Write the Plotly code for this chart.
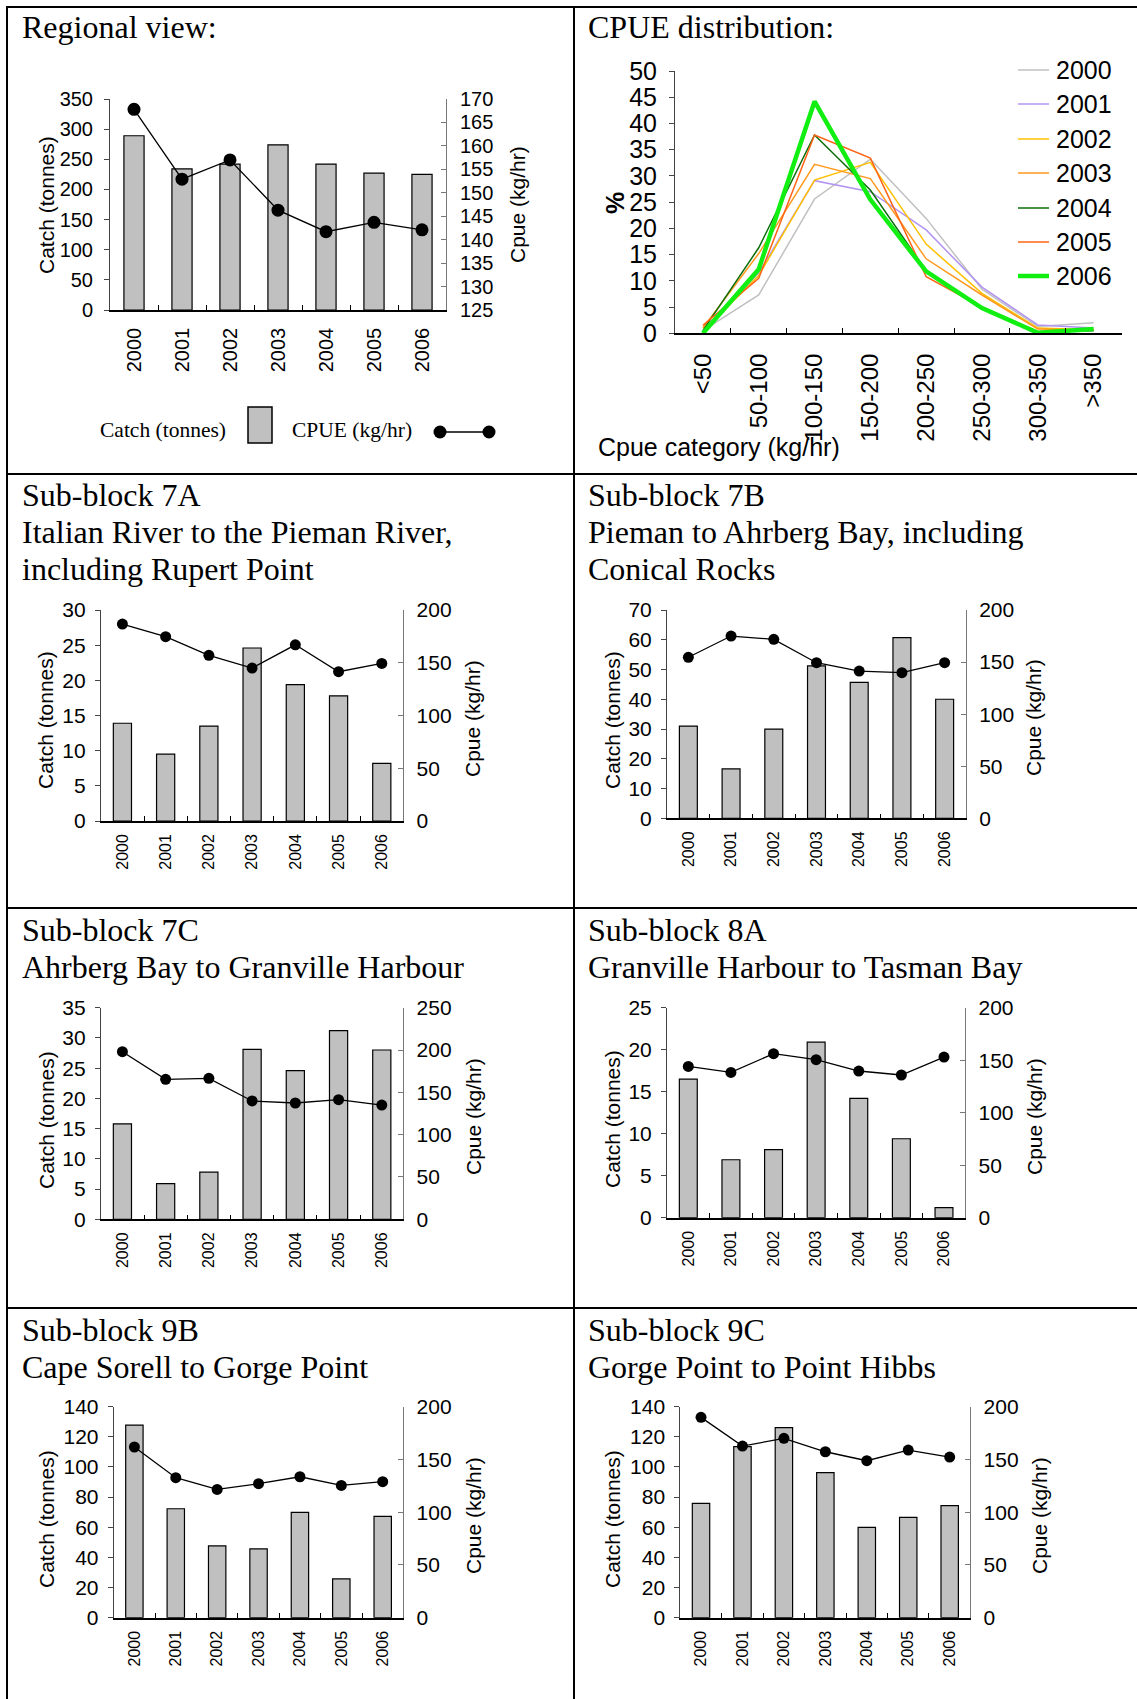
import plotly.graph_objects as go

W, H = 1137, 1699

# ---------------- data ----------------
years = ['2000', '2001', '2002', '2003', '2004', '2005', '2006']

regional_catch = [289, 234, 242, 274, 242, 227, 225]
regional_cpue = [167.8, 152.9, 157.0, 146.3, 141.7, 143.7, 142.1]

cpue_categories = ['<50', '50-100', '100-150', '150-200', '200-250', '250-300', '300-350', '>350']
dist_2000 = [0.5, 7.3, 25.6, 33.2, 21.9, 8.4, 1.3, 2.0]
dist_2001 = [0.5, 11.5, 29.1, 27.0, 19.7, 8.8, 1.6, 1.0]
dist_2002 = [0.3, 11.0, 29.2, 32.6, 17.0, 7.6, 1.0, 0.7]
dist_2003 = [1.0, 15.2, 32.2, 29.5, 14.2, 7.3, 0.8, 0.6]
dist_2004 = [0.5, 16.3, 37.8, 27.3, 11.9, 5.0, 0.3, 0.5]
dist_2005 = [1.5, 10.5, 37.8, 33.4, 10.8, 5.0, 0.3, 0.7]
dist_2006 = [0.0, 12.2, 44.2, 25.5, 11.8, 4.8, 0.1, 0.8]

catch_7a = [13.9, 9.5, 13.5, 24.6, 19.4, 17.8, 8.2]
cpue_7a = [186.7, 174.7, 157.0, 145.0, 167.0, 141.5, 149.4]
catch_7b = [31.0, 16.6, 30.0, 51.2, 45.7, 60.7, 40.0]
cpue_7b = [154.6, 175.0, 171.8, 149.4, 141.4, 139.8, 149.4]
catch_7c = [15.8, 5.9, 7.8, 28.1, 24.6, 31.2, 28.0]
cpue_7c = [198.0, 165.4, 166.5, 139.8, 137.4, 141.3, 135.0]
catch_8a = [16.5, 6.9, 8.1, 20.9, 14.2, 9.4, 1.2]
cpue_8a = [144.1, 138.4, 156.2, 150.5, 139.7, 135.9, 153.0]
catch_9b = [127.8, 72.3, 47.6, 45.6, 69.9, 25.7, 67.2]
cpue_9b = [161.8, 132.7, 121.6, 127.0, 133.6, 125.4, 128.9]
catch_9c = [75.9, 113.5, 126.1, 96.2, 59.9, 66.6, 74.3]
cpue_9c = [189.9, 162.7, 170.0, 157.3, 148.8, 158.9, 152.3]

# ---------------- styles ----------------
SANS = 'Liberation Sans, Arial, sans-serif'
SERIF = 'Liberation Serif, Times New Roman, serif'
BAR_FILL = '#c0c0c0'
dist_series = [
    ('2000', dist_2000, '#c0c0c0', 1.5),
    ('2001', dist_2001, '#b294f2', 1.5),
    ('2002', dist_2002, '#ffc000', 1.5),
    ('2003', dist_2003, '#ff9a1e', 1.5),
    ('2004', dist_2004, '#0b6e0b', 1.5),
    ('2005', dist_2005, '#ff6414', 1.5),
    ('2006', dist_2006, '#11ee11', 4.5),
]


def fx(x):
    return x / W


def fy(y):
    return 1 - y / H


def ax_name(kind, n):
    return kind + ('' if n == 1 else str(n))


def ax_ref(kind, n):
    return kind[0] + ('' if n == 1 else str(n))


fig = go.Figure()
layout = {}
annotations = []
shapes = []


def text(x, y, s, size, family=SANS, angle=0, xanchor='center', yanchor='middle', bold=False):
    annotations.append(dict(
        x=fx(x), y=fy(y), xref='paper', yref='paper', text=('<b>%s</b>' % s) if bold else s,
        showarrow=False, textangle=angle, xanchor=xanchor, yanchor=yanchor,
        font=dict(family=family, size=size, color='black')))


def dual_panel(n, catch, cpue, box, lrng, ldt, rrng, rdt, tickfs, yearfs, msize,
               ylab_pos, rlab_pos, titlefs, xstand, lstand, rstand):
    x0, x1, y0, y1 = box
    xn = ax_ref('x', n)
    yl_i, yr_i = 2 * n - 1, 2 * n
    fig.add_trace(go.Bar(x=years, y=catch, xaxis=xn, yaxis=ax_ref('y', yl_i),
                         marker=dict(color=BAR_FILL, line=dict(color='black', width=1.2)),
                         width=0.42, showlegend=False, name='Catch (tonnes)'))
    fig.add_trace(go.Scatter(x=years, y=cpue, xaxis=xn, yaxis=ax_ref('y', yr_i),
                             mode='lines+markers', line=dict(color='black', width=1.3),
                             marker=dict(color='black', size=msize), showlegend=False,
                             name='CPUE (kg/hr)'))
    layout[ax_name('xaxis', n)] = dict(
        domain=[fx(x0), fx(x1)], anchor=ax_ref('y', yl_i), type='category',
        range=[-0.5, 6.5], tickson='boundaries', ticks='inside', ticklen=5,
        tickcolor='black', showline=True, linecolor='black', linewidth=1.5,
        tickangle=-90, tickfont=dict(family=SANS, size=yearfs, color='black'),
        showgrid=False, zeroline=False, ticklabelstandoff=xstand, fixedrange=True,
        automargin=False)
    layout[ax_name('yaxis', yl_i)] = dict(
        domain=[fy(y1), fy(y0)], anchor=xn, range=lrng, dtick=ldt, tick0=0,
        ticks='outside', ticklen=5, tickcolor='#444', showline=True, linecolor='#444',
        linewidth=1, showgrid=False, zeroline=False, automargin=False,
        tickfont=dict(family=SANS, size=tickfs, color='black'), ticklabelstandoff=lstand)
    layout[ax_name('yaxis', yr_i)] = dict(
        domain=[fy(y1), fy(y0)], anchor=xn, overlaying=ax_ref('y', yl_i), side='right',
        range=rrng, dtick=rdt, tick0=rrng[0], ticks='inside', ticklen=5, tickcolor='#777',
        showline=True, linecolor='#777', linewidth=1, showgrid=False, zeroline=False,
        automargin=False,
        tickfont=dict(family=SANS, size=tickfs, color='black'), ticklabelstandoff=rstand)
    text(ylab_pos[0], ylab_pos[1], 'Catch (tonnes)', titlefs, angle=-90)
    text(rlab_pos[0], rlab_pos[1], 'Cpue (kg/hr)', titlefs, angle=-90)


# ---------------- panel 1: regional view ----------------
dual_panel(1, regional_catch, regional_cpue, (110, 446, 99, 310), [0, 350], 50, [125, 170], 5,
           20, 20, 13, (46, 205), (517, 205), 21, 8, 7, 9)

# legend of panel 1 (drawn by hand: text left of key)
text(98, 430, 'Catch (tonnes)', 21.5, family=SERIF, xanchor='left')
shapes.append(dict(type='rect', xref='paper', yref='paper', x0=fx(248), x1=fx(272), y0=fy(443), y1=fy(407),
                   fillcolor=BAR_FILL, line=dict(color='black', width=1.5)))
text(289.5, 430, 'CPUE (kg/hr)', 21.5, family=SERIF, xanchor='left')
shapes.append(dict(type='line', xref='paper', yref='paper', x0=fx(440), x1=fx(489), y0=fy(432), y1=fy(432),
                   line=dict(color='black', width=1.5)))
for cx in (440, 489):
    shapes.append(dict(type='circle', xref='paper', yref='paper', x0=fx(cx - 6.5), x1=fx(cx + 6.5),
                       y0=fy(432 + 6.5), y1=fy(432 - 6.5), fillcolor='black', line=dict(color='black', width=0)))

# ---------------- panel 2: CPUE distribution ----------------
for name, vals, col, lw in dist_series:
    fig.add_trace(go.Scatter(x=cpue_categories, y=vals, xaxis='x2', yaxis='y3', mode='lines',
                             line=dict(color=col, width=lw), name=name, showlegend=False))
layout['xaxis2'] = dict(domain=[fx(675), fx(1121.5)], anchor='y3', type='category', range=[-0.5, 7.5],
                        tickson='boundaries', ticks='inside', ticklen=6, tickcolor='black',
                        showline=True, linecolor='black', linewidth=1.5, tickangle=-90,
                        tickfont=dict(family=SANS, size=24, color='black'), showgrid=False,
                        zeroline=False, ticklabelstandoff=9, automargin=False)
layout['yaxis3'] = dict(domain=[fy(333.3), fy(71)], anchor='x2', range=[0, 50], dtick=5,
                        ticks='outside', ticklen=5, tickcolor='#444', showline=True, linecolor='#444',
                        linewidth=1, showgrid=False, zeroline=False, automargin=False,
                        tickfont=dict(family=SANS, size=25, color='black'), ticklabelstandoff=7)
text(615, 203, '%', 25, angle=-90, bold=True)
text(719, 447, 'Cpue category (kg/hr)', 25)
leg_y = [70, 104, 139, 173, 208, 242, 276]
for (name, vals, col, lw), ly in zip(dist_series, leg_y):
    shapes.append(dict(type='line', xref='paper', yref='paper', x0=fx(1018), x1=fx(1049), y0=fy(ly), y1=fy(ly),
                       line=dict(color=col, width=lw)))
    text(1053.5, ly, name, 25, xanchor='left')

# ---------------- sub-block panels ----------------
XS, LS, RS = 5, 5, 8
dual_panel(3, catch_7a, cpue_7a, (100.8, 403.4, 610, 821), [0, 30], 5, [0, 200], 50,
           21, 16, 11, (45, 720), (472, 719), 21, XS, LS, RS)
dual_panel(4, catch_7b, cpue_7b, (667, 966, 610, 818.3), [0, 70], 10, [0, 200], 50,
           21, 16, 11, (612, 720), (1034, 718), 21, XS, LS, RS)
dual_panel(5, catch_7c, cpue_7c, (100.8, 403.4, 1007.7, 1219.3), [0, 35], 5, [0, 250], 50,
           21, 16, 11, (46, 1120), (473, 1117), 21, XS, LS, RS)
dual_panel(6, catch_8a, cpue_8a, (667, 965.3, 1007.7, 1217.7), [0, 25], 5, [0, 200], 50,
           21, 16, 11, (612, 1119), (1034, 1117), 21, XS, LS, RS)
dual_panel(7, catch_9b, cpue_9b, (113.7, 403.4, 1406.7, 1617.7), [0, 140], 20, [0, 200], 50,
           21, 16, 11, (46, 1519), (473, 1516), 21, XS, LS, RS)
dual_panel(8, catch_9c, cpue_9c, (680.3, 970.4, 1406.7, 1617.7), [0, 140], 20, [0, 200], 50,
           21, 16, 11, (612, 1519), (1039, 1516), 21, XS, LS, RS)

# ---------------- panel titles ----------------
TF = 32
titles = [
    (19.5, [(27, 'Regional view:')]),
    (586, [(27, 'CPUE distribution:')]),
    (19.5, [(495, 'Sub-block 7A'), (532, 'Italian River to the Pieman River,'), (569, 'including Rupert Point')]),
    (586, [(495, 'Sub-block 7B'), (532, 'Pieman to Ahrberg Bay, including'), (569, 'Conical Rocks')]),
    (19.5, [(930, 'Sub-block 7C'), (967, 'Ahrberg Bay to Granville Harbour')]),
    (586, [(930, 'Sub-block 8A'), (967, 'Granville Harbour to Tasman Bay')]),
    (19.5, [(1330, 'Sub-block 9B'), (1367, 'Cape Sorell to Gorge Point')]),
    (586, [(1330, 'Sub-block 9C'), (1367, 'Gorge Point to Point Hibbs')]),
]
for tx, lines in titles:
    for ty, s in lines:
        text(tx, ty, s, TF, family=SERIF, xanchor='left')

# ---------------- frame ----------------
def hline(y, xa, xb, w=2):
    shapes.append(dict(type='line', xref='paper', yref='paper', x0=fx(xa), x1=fx(xb), y0=fy(y), y1=fy(y),
                       line=dict(color='black', width=w)))


def vline(x, ya, yb, w=2):
    shapes.append(dict(type='line', xref='paper', yref='paper', x0=fx(x), x1=fx(x), y0=fy(ya), y1=fy(yb),
                       line=dict(color='black', width=w)))


hline(7, 6, W)
for yy in (474, 908, 1308):
    hline(yy, 6, W)
vline(7, 6, H)
vline(574, 6, H)

fig.update_layout(
    template='none',
    width=W, height=H, margin=dict(l=0, r=0, t=0, b=0, pad=0, autoexpand=False),
    paper_bgcolor='white', plot_bgcolor='rgba(0,0,0,0)', showlegend=False,
    annotations=annotations, shapes=shapes, font=dict(family=SANS, color='black'),
    **layout)

fig.write_html('out.html', config={'displayModeBar': False},
               post_script="document.body.style.margin='0';document.body.style.overflow='hidden';")
